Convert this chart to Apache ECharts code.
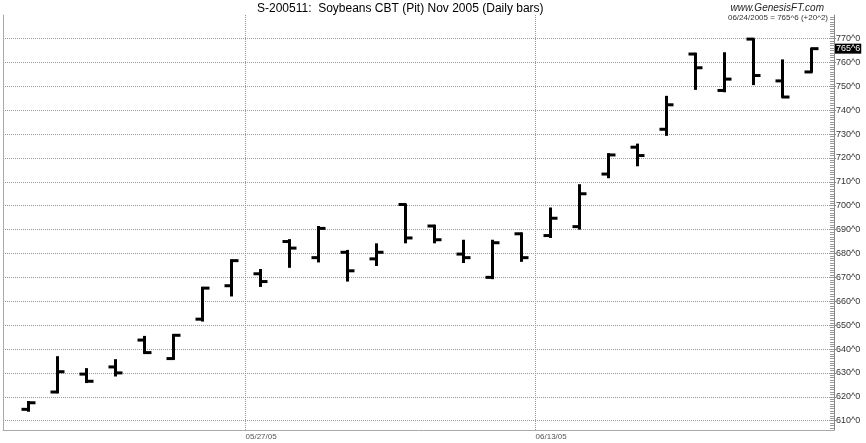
<!DOCTYPE html>
<html><head><meta charset="utf-8">
<script src="https://cdn.jsdelivr.net/npm/echarts@6/dist/echarts.min.js"></script>
<style>html,body{margin:0;padding:0;background:#fff}#c{width:866px;height:443px}</style>
</head><body><div id="c"></div>
<script>
const dates = ['05/17/05','05/18/05','05/19/05','05/20/05','05/23/05','05/24/05','05/25/05','05/26/05','05/27/05','05/31/05',
  '06/01/05','06/02/05','06/03/05','06/06/05','06/07/05','06/08/05','06/09/05','06/10/05','06/13/05','06/14/05',
  '06/15/05','06/16/05','06/17/05','06/20/05','06/21/05','06/22/05','06/23/05','06/24/05'];
const openP  = [614.75,622,629.5,632.5,643.75,636,652.5,666.5,671.5,685,678.25,680.5,677.75,700.5,691.5,679.75,670,688.25,687.5,691.25,713.25,724.5,732,763.5,748.25,769.75,752.25,756];
const highP  = [618.25,637,632,635.75,645.5,646.25,666,677.5,673.5,686,691.5,681.5,684.25,700.75,692,685.75,685.75,688.75,699.25,709,722,726,746,764,764.25,770,761.25,766];
const lowP   = [613.75,621.5,625.75,628.5,638,635.5,651.5,662,666,674,676.25,668.25,674.75,684.25,684.25,676,669.25,676.5,686.5,690,711.5,716.5,729.25,748.5,747.5,750.5,745.25,755.75];
const closeP = [617.5,630.5,626.5,630,638.5,645.75,665.5,677,668.25,682.25,690.5,672.75,680.5,686.5,685.75,678.25,684.5,678.25,694.75,705,721.25,721,742.25,757.75,753,754.5,745.5,765.75];
const priceTicks = [610,620,630,640,650,660,670,680,690,700,710,720,730,740,750,760,770];
const dateLabels = ['05/27/05','06/13/05'];
const titleText = 'S-200511:  Soybeans CBT (Pit) Nov 2005 (Daily bars)';
const siteText = 'www.GenesisFT.com';
const lastInfo = '06/24/2005 = 765^6 (+20^2)';

const FONT = '"Liberation Sans", Arial, Helvetica, sans-serif';
const Y_MIN = 606.1, Y_MAX = 779.84;
const X_MIN = -0.862, X_MAX = 27.79;

function fmt(v){ const w = Math.floor(v + 1e-9); const e = Math.round((v - w) * 8); return w + '^' + e; }
const dateBoundaries = dateLabels.map(d => dates.indexOf(d) - 0.5);
const minorTicks = [];
for (let v = Math.ceil(Y_MIN); v <= Math.floor(Y_MAX); v++) minorTicks.push(v);

const ohlc = dates.map((d, i) => [i, openP[i], highP[i], lowP[i], closeP[i]]);

const chart = echarts.init(document.getElementById('c'), null, {renderer: 'canvas'});
chart.setOption({
  animation: false,
  backgroundColor: '#fff',
  textStyle: {fontFamily: FONT},
  title: [
    {text: titleText, left: 257, top: 3, padding: 0, textStyle: {fontSize: 12, fontWeight: 'normal', color: '#000', fontFamily: FONT}},
    {text: siteText, right: 42, top: 3, padding: 0, textStyle: {fontSize: 10, fontStyle: 'italic', fontWeight: 'normal', color: '#222', fontFamily: FONT}},
    {text: lastInfo, right: 38, top: 14, padding: 0, textStyle: {fontSize: 8, fontWeight: 'normal', color: '#333', fontFamily: FONT}}
  ],
  grid: {left: 3, right: 32, top: 15, bottom: 13, containLabel: false, outerBoundsMode: 'none'},
  xAxis: {
    type: 'value', min: X_MIN, max: X_MAX,
    axisLine: {show: true, onZero: false, lineStyle: {color: '#aaa', width: 1}},
    axisTick: {show: false, customValues: dateBoundaries},
    axisLabel: {
      customValues: dateBoundaries, align: 'left', fontSize: 8, color: '#555', margin: 3, fontFamily: FONT,
      formatter: v => { const k = dateBoundaries.findIndex(b => Math.abs(b - v) < 0.01); return k >= 0 ? dateLabels[k] : ''; }
    },
    splitLine: {show: true, lineStyle: {color: '#999', type: [1, 1], width: 1}}
  },
  yAxis: [
    {
      type: 'value', position: 'right', min: Y_MIN, max: Y_MAX,
      axisLine: {show: true, onZero: false, lineStyle: {color: '#888', width: 1}},
      axisTick: {show: true, inside: false, length: 2, customValues: priceTicks, lineStyle: {color: '#888'}},
      axisLabel: {customValues: priceTicks, formatter: fmt, fontSize: 9, color: '#333', margin: 2, fontFamily: FONT},
      splitLine: {show: true, lineStyle: {color: '#999', type: [1, 1], width: 1}}
    },
    {
      type: 'value', position: 'right', min: Y_MIN, max: Y_MAX,
      axisLine: {show: false, onZero: false},
      axisTick: {show: true, inside: true, length: 4, customValues: minorTicks, lineStyle: {color: '#999'}},
      axisLabel: {show: false},
      splitLine: {show: false}
    },
    {
      type: 'value', position: 'left', min: Y_MIN, max: Y_MAX,
      axisLine: {show: true, onZero: false, lineStyle: {color: '#aaa', width: 1}},
      axisTick: {show: false}, axisLabel: {show: false}, splitLine: {show: false}
    }
  ],
  series: [{
    type: 'custom',
    xAxisIndex: 0, yAxisIndex: 0,
    data: ohlc,
    encode: {x: 0, y: [1, 2, 3, 4]},
    clip: false,
    renderItem: function (params, api) {
      const i = api.value(0);
      const pO = api.coord([i, api.value(1)]);
      const pH = api.coord([i, api.value(2)]);
      const pL = api.coord([i, api.value(3)]);
      const pC = api.coord([i, api.value(4)]);
      const x = Math.round(pH[0]) + 0.5;
      const style = {stroke: '#000', lineWidth: 3, lineCap: 'butt', fill: null};
      return {type: 'group', children: [
        {type: 'line', shape: {x1: x, y1: pH[1], x2: x, y2: pL[1]}, style: style},
        {type: 'line', shape: {x1: x - 7, y1: pO[1], x2: x + 1, y2: pO[1]}, style: style},
        {type: 'line', shape: {x1: x - 1, y1: pC[1], x2: x + 7, y2: pC[1]}, style: style}
      ]};
    },
    markLine: {
      silent: true, symbol: ['none', 'none'], animation: false,
      lineStyle: {color: 'rgba(0,0,0,0)', width: 1, type: 'solid'},
      label: {
        show: true, position: 'end', distance: 1, formatter: p => fmt(p.value),
        backgroundColor: '#000', color: '#fff', fontSize: 9, padding: [1, 1, 0, 1], fontFamily: FONT
      },
      emphasis: {disabled: true},
      data: [{yAxis: closeP[closeP.length - 1]}]
    }
  }]
});
</script>
</body></html>
